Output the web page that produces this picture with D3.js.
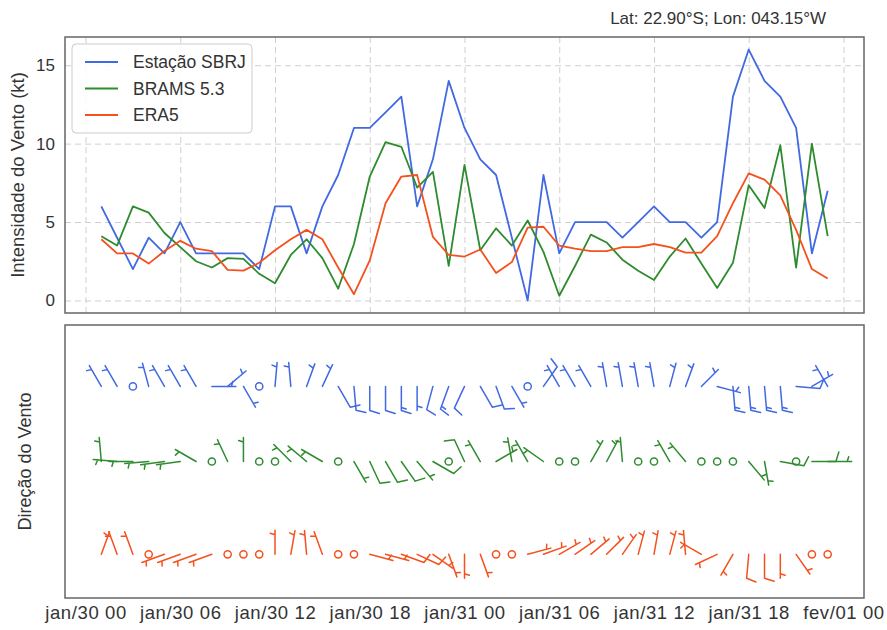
<!DOCTYPE html>
<html>
<head>
<meta charset="utf-8">
<script src="https://cdn.jsdelivr.net/npm/d3@7"></script>
<style>
body { margin: 0; background: #fff; }
text { font-family: "Liberation Sans", Arial, sans-serif; fill: #333; }
</style>
</head>
<body>
<div id="chart"></div>
<script>
// hours since jan/30 00 UTC
var hours = [1,2,3,4,5,6,7,8,9,10,11,12,13,14,15,16,17,18,19,20,21,22,23,24,
             25,26,27,28,29,30,31,32,33,34,35,36,37,38,39,40,41,42,43,44,45,46,47];
var tickHours = [0, 6, 12, 18, 24, 30, 36, 42, 48];
var tickLabels = ["jan/30 00", "jan/30 06", "jan/30 12", "jan/30 18", "jan/31 00",
                  "jan/31 06", "jan/31 12", "jan/31 18", "fev/01 00"];
var speedTicks = [0, 5, 10, 15];

// intensidade (kt)
var station = [6,4,2,4,3,5,3,3,3,3,2,6,6,3,6,8,11,11,12,13,6,9,14,11,
               9,8,4,0,8,3,5,5,5,4,5,6,5,5,4,5,13,16,14,13,11,3,7];
var brams = [4.1,3.5,6.0,5.6,4.3,3.4,2.5,2.1,2.7,2.65,1.7,1.1,2.9,3.9,2.7,0.75,3.6,7.9,10.1,9.8,
             7.2,8.2,2.2,8.65,3.2,4.6,3.5,5.1,3.1,0.3,2.2,4.2,3.7,2.6,1.9,1.3,2.8,3.95,2.35,0.8,
             2.4,7.35,5.9,9.9,2.1,10.0,4.1];
var era5 = [3.9,3.0,3.0,2.35,3.15,3.8,3.3,3.15,1.95,1.9,2.4,3.2,3.9,4.5,3.9,2.1,0.4,2.55,6.2,7.9,
            8.0,4.05,2.9,2.8,3.25,1.75,2.45,4.65,4.7,3.5,3.3,3.15,3.15,3.4,3.4,3.6,3.4,3.05,3.05,4.1,
            6.2,8.1,7.7,6.7,4.5,2.0,1.4];

// direcao (graus, de onde vem o vento)
var stationDir = [330,330,0,345,330,330,330,90,50,150,0,5,355,20,25,150,175,180,180,180,180,195,200,205,
                  150,160,150,0,35,330,330,330,350,350,350,350,15,20,45,105,175,175,175,175,95,60,330];
var bramsDir = [355,275,270,265,262,262,300,0,335,0,0,0,315,310,300,0,150,155,150,145,140,120,0,335,
                330,60,350,330,305,0,0,30,28,355,0,0,330,320,0,0,0,140,170,100,0,90,90];
var era5Dir = [20,340,340,0,250,250,250,250,0,0,0,0,10,355,340,0,0,105,105,110,115,125,160,180,
               160,0,0,75,70,60,55,50,45,35,15,10,15,355,300,245,210,185,180,180,145,0,0];

var seriesNames = ["Estação SBRJ", "BRAMS 5.3", "ERA5"];
var seriesColors = ["#4169e1", "#2e8b2e", "#f4511e"];
var rowLevels = [3.1, 2.0, 0.64];

var series = [
  {name: seriesNames[0], color: seriesColors[0], spd: station, dir: stationDir, level: rowLevels[0]},
  {name: seriesNames[1], color: seriesColors[1], spd: brams, dir: bramsDir, level: rowLevels[1]},
  {name: seriesNames[2], color: seriesColors[2], spd: era5, dir: era5Dir, level: rowLevels[2]}
];

var W = 887, H = 630;
var left = 65, right = 864;
var top1 = 37, bot1 = 313, top2 = 325, bot2 = 598;

var svg = d3.select("#chart").append("svg")
  .attr("width", W).attr("height", H);

var x = d3.scaleLinear().domain([-1.3, 49.3]).range([left, right]);
var y = d3.scaleLinear().domain([-0.8, 16.8]).range([bot1, top1]);
var yb = d3.scaleLinear().domain([0, 4]).range([bot2, top2]);

// grid of the top panel
var grid = svg.append("g");
grid.append("g")
  .attr("transform", "translate(0," + bot1 + ")")
  .call(d3.axisBottom(x).tickValues(tickHours).tickSize(-(bot1 - top1)).tickFormat(""));
grid.append("g")
  .attr("transform", "translate(" + left + ",0)")
  .call(d3.axisLeft(y).tickValues(speedTicks).tickSize(-(right - left)).tickFormat(""));
grid.selectAll(".domain").remove();
grid.selectAll("line")
  .attr("stroke", "#cfcfcf")
  .attr("stroke-width", 1)
  .attr("stroke-dasharray", "6,4");

// y tick labels
var yax = svg.append("g")
  .attr("transform", "translate(" + left + ",0)")
  .call(d3.axisLeft(y).tickValues(speedTicks).tickSize(0).tickPadding(10));
yax.select(".domain").remove();
yax.selectAll("text")
  .style("font-family", "'Liberation Sans', Arial, sans-serif")
  .style("font-size", "17px")
  .attr("fill", "#333");

// lines
var line = d3.line()
  .x(function(d, i) { return x(hours[i]); })
  .y(function(d) { return y(d); });

series.forEach(function(s) {
  svg.append("path")
    .datum(s.spd)
    .attr("fill", "none")
    .attr("stroke", s.color)
    .attr("stroke-width", 1.8)
    .attr("stroke-linejoin", "round")
    .attr("d", line);
});

// frames
[[top1, bot1], [top2, bot2]].forEach(function(f) {
  svg.append("rect")
    .attr("x", left).attr("y", f[0])
    .attr("width", right - left).attr("height", f[1] - f[0])
    .attr("fill", "none")
    .attr("stroke", "#666")
    .attr("stroke-width", 1.5);
});

// legend
var lg = svg.append("g").attr("transform", "translate(72,44)");
lg.append("rect")
  .attr("width", 180).attr("height", 89)
  .attr("rx", 4)
  .attr("fill", "#fff").attr("fill-opacity", 0.85)
  .attr("stroke", "#cccccc");
series.forEach(function(s, i) {
  var yy = 18 + i * 26.5;
  lg.append("line")
    .attr("x1", 13).attr("x2", 46)
    .attr("y1", yy).attr("y2", yy)
    .attr("stroke", s.color).attr("stroke-width", 1.8);
  lg.append("text")
    .attr("x", 61).attr("y", yy + 6)
    .style("font-size", "17.5px")
    .text(s.name);
});

// wind barbs (matplotlib style, flip_barb for the southern hemisphere)
var L = 24;
function barbSegments(cx, cy, spd, dir) {
  var mag = 5 * Math.floor(spd / 5 + 0.5);
  var nFull = Math.floor((mag % 50) / 10);
  var half = (mag % 10) >= 5;
  if (!nFull && !half) return null;
  var fh = -0.4 * L, fw = 0.25 * L, sp = 0.125 * L;
  var a = dir * Math.PI / 180, c = Math.cos(a), s = Math.sin(a);
  function P(px, py) { return [cx + px * c + py * s, cy - (-px * s + py * c)]; }
  var segs = [[P(0, 0), P(0, L)]];
  var o = L;
  for (var i = 0; i < nFull; i++) {
    segs.push([P(0, o), P(fh, o + fw / 2)]);
    o -= sp;
  }
  if (half) {
    if (o === L) o -= 1.5 * sp;
    segs.push([P(0, o), P(fh / 2, o + fw / 4)]);
  }
  return segs;
}

series.forEach(function(s) {
  var g = svg.append("g");
  var cy = yb(s.level);
  hours.forEach(function(h, i) {
    var cx = x(h);
    var segs = barbSegments(cx, cy, s.spd[i], s.dir[i]);
    if (!segs) {
      g.append("circle")
        .attr("cx", cx).attr("cy", cy).attr("r", 0.15 * L)
        .attr("fill", "none")
        .attr("stroke", s.color).attr("stroke-width", 1.5);
    } else {
      g.append("path")
        .attr("d", segs.map(function(sg) { return "M" + sg[0] + "L" + sg[1]; }).join(""))
        .attr("fill", "none")
        .attr("stroke", s.color)
        .attr("stroke-width", 1.5)
        .attr("stroke-linecap", "round");
    }
  });
});

// x tick labels under the bottom panel
var xax = svg.append("g")
  .attr("transform", "translate(0," + bot2 + ")")
  .call(d3.axisBottom(x).tickValues(tickHours)
    .tickFormat(function(d, i) { return tickLabels[i]; })
    .tickSize(0).tickPadding(8));
xax.select(".domain").remove();
xax.selectAll("text")
  .style("font-family", "'Liberation Sans', Arial, sans-serif")
  .style("font-size", "18.5px")
  .style("letter-spacing", "0.6px")
  .attr("fill", "#333");

// axis labels and title
svg.append("text")
  .attr("transform", "translate(24," + ((top1 + bot1) / 2) + ") rotate(-90)")
  .attr("text-anchor", "middle")
  .style("font-size", "18.5px")
  .text("Intensidade do Vento (kt)");

svg.append("text")
  .attr("transform", "translate(31," + ((top2 + bot2) / 2) + ") rotate(-90)")
  .attr("text-anchor", "middle")
  .style("font-size", "18px")
  .text("Direção do Vento");

svg.append("text")
  .attr("x", 826).attr("y", 24)
  .attr("text-anchor", "end")
  .style("font-size", "17px")
  .text("Lat: 22.90°S; Lon: 043.15°W");
</script>
</body>
</html>
